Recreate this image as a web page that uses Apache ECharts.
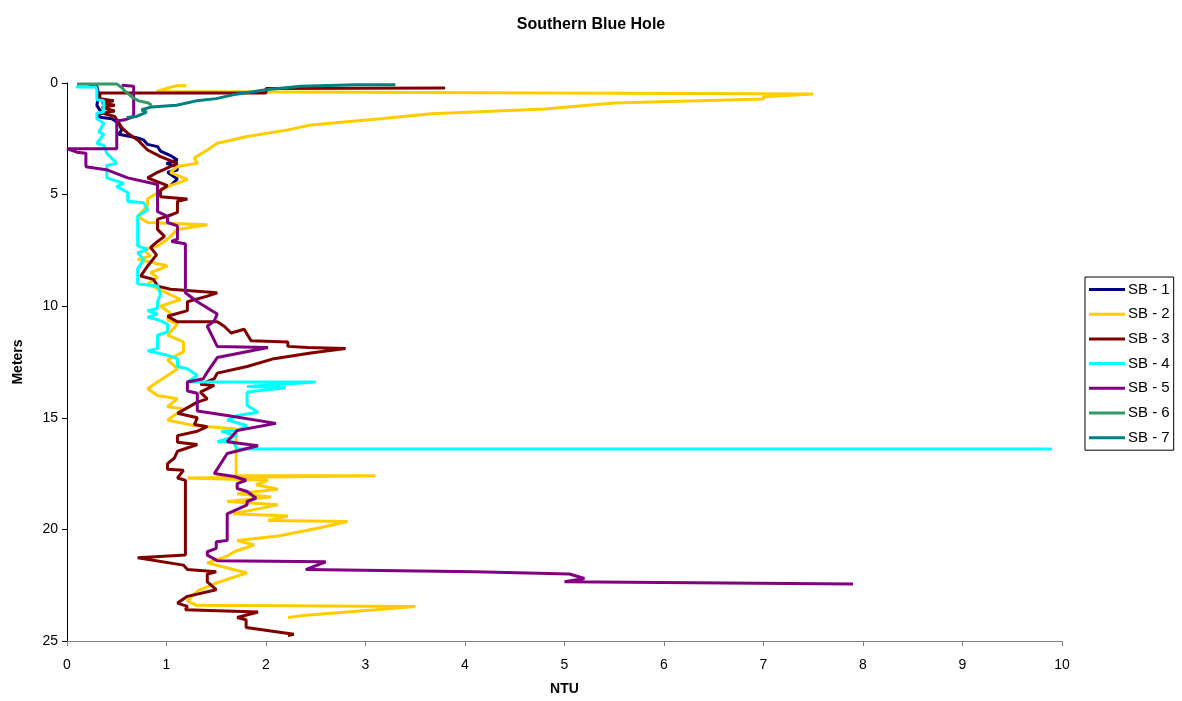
<!DOCTYPE html>
<html>
<head>
<meta charset="utf-8">
<script src="https://cdn.jsdelivr.net/npm/echarts@6/dist/echarts.min.js"></script>
<style>
html,body{margin:0;padding:0;background:#fff;}
#chart{width:1182px;height:701px;}
</style>
</head>
<body>
<div id="chart"></div>
<script>
// [NTU, depth in meters]
const seriesNames = ['SB - 1','SB - 2','SB - 3','SB - 4','SB - 5','SB - 6','SB - 7'];
const xTicks = [0,1,2,3,4,5,6,7,8,9,10];
const yTicks = [0,5,10,15,20,25];

const sb1 = [[0.22,0.15],[0.3,0.15],[0.32,0.5],[0.3,1.0],[0.35,1.35],[0.3,1.45],[0.35,1.55],[0.45,1.6],[0.52,1.8],[0.55,2.1],[0.52,2.3],[0.7,2.45],[0.77,2.55],[0.81,2.75],[0.91,2.85],[0.94,3.05],[1.04,3.25],[1.11,3.45],[1.0,3.6],[1.1,3.75],[1.11,3.9],[1.01,4.0],[1.11,4.3],[1.04,4.6]];

const sb2 = [[1.2,0.12],[1.1,0.12],[0.9,0.38],[0.9,0.45],[7.5,0.49],[7.0,0.62],[7.0,0.72],[5.5,0.9],[4.8,1.16],[3.66,1.38],[3.15,1.6],[2.45,1.88],[2.22,2.1],[1.81,2.4],[1.51,2.7],[1.41,3.0],[1.28,3.35],[1.31,3.6],[1.11,3.74],[1.04,4.0],[1.21,4.33],[1.01,4.64],[0.81,5.2],[0.81,5.5],[0.71,5.97],[0.81,6.25],[1.41,6.35],[1.11,6.56],[1.01,7.0],[0.91,7.3],[0.77,7.46],[0.84,7.75],[0.71,7.9],[1.01,8.2],[0.84,8.5],[0.91,8.7],[0.81,9.0],[1.14,9.7],[0.94,10.0],[1.04,10.3],[1.01,10.6],[1.11,10.8],[1.01,11.3],[1.17,11.6],[1.17,12.05],[1.01,12.4],[1.11,12.8],[1.01,13.1],[0.91,13.4],[0.81,13.7],[0.91,14.0],[1.11,14.15],[1.01,14.5],[1.17,14.6],[1.01,15.1],[1.28,15.35],[1.7,15.5],[1.7,17.6],[3.1,17.6],[1.21,17.7],[2.02,17.8],[1.9,18.0],[2.12,18.2],[1.71,18.4],[2.05,18.55],[1.61,18.75],[2.12,18.9],[1.67,19.3],[2.22,19.4],[2.02,19.6],[2.82,19.65],[2.52,19.95],[2.12,20.3],[1.71,20.5],[1.88,20.7],[1.68,21.0],[1.61,21.2],[1.41,21.5],[1.81,21.95],[1.5,22.4],[1.31,22.77],[1.21,23.2],[1.3,23.4],[3.5,23.45],[3.1,23.6],[2.4,23.85],[2.22,23.95]];

const sb3 = [[3.8,0.22],[2.0,0.25],[2.0,0.45],[0.33,0.45],[0.33,0.7],[0.47,0.8],[0.35,0.9],[0.48,1.0],[0.35,1.1],[0.48,1.25],[0.35,1.35],[0.48,1.5],[0.5,1.65],[0.55,2.0],[0.61,2.25],[0.71,2.55],[0.81,3.0],[0.94,3.3],[1.11,3.6],[0.91,4.0],[0.81,4.25],[1.01,4.6],[0.94,4.8],[0.94,5.1],[1.21,5.2],[1.11,5.3],[1.11,5.8],[1.01,5.97],[0.91,6.1],[0.91,6.56],[0.98,6.87],[0.91,7.1],[0.84,7.37],[0.9,7.7],[0.81,8.2],[0.74,8.65],[0.87,8.8],[0.91,9.1],[1.04,9.24],[1.51,9.4],[1.41,9.55],[1.21,9.8],[1.21,10.2],[1.01,10.45],[1.11,10.7],[1.51,10.7],[1.58,10.9],[1.65,11.2],[1.78,11.03],[1.85,11.55],[2.22,11.6],[2.22,11.8],[2.42,11.85],[2.8,11.9],[2.45,12.1],[2.08,12.35],[1.81,12.7],[1.51,13.0],[1.48,13.25],[1.34,13.5],[1.48,13.55],[1.34,13.85],[1.41,14.15],[1.31,14.3],[1.11,14.8],[1.31,15.0],[1.28,15.3],[1.41,15.4],[1.31,15.6],[1.11,15.8],[1.11,16.1],[1.31,16.2],[1.11,16.5],[1.08,16.8],[1.01,17.05],[1.01,17.3],[1.17,17.35],[1.11,17.7],[1.19,17.8],[1.19,21.15],[0.71,21.27],[1.17,21.6],[1.21,21.8],[1.5,21.9],[1.41,22.0],[1.41,22.35],[1.5,22.7],[1.21,23.0],[1.11,23.3],[1.21,23.45],[1.19,23.6],[1.92,23.7],[1.71,23.95],[1.8,24.05],[1.8,24.4],[2.28,24.7],[2.22,24.75]];

const sb4 = [[0.09,0.18],[0.29,0.18],[0.3,0.3],[0.3,0.75],[0.37,0.8],[0.37,1.3],[0.3,1.35],[0.3,1.6],[0.37,1.8],[0.32,2.2],[0.37,2.3],[0.3,2.7],[0.37,2.8],[0.4,3.15],[0.5,3.6],[0.4,3.7],[0.4,4.25],[0.57,4.5],[0.5,4.64],[0.61,4.9],[0.61,5.3],[0.77,5.37],[0.81,5.67],[0.71,5.97],[0.71,7.3],[0.81,7.46],[0.71,7.6],[0.77,7.9],[0.71,8.35],[0.71,9.0],[0.91,9.1],[0.94,9.46],[0.91,9.8],[0.91,10.1],[0.81,10.2],[0.91,10.35],[0.81,10.5],[0.91,10.6],[1.01,10.8],[1.01,11.15],[0.91,11.3],[0.91,11.9],[0.81,12.0],[1.01,12.2],[1.11,12.35],[1.11,12.7],[1.21,12.8],[1.31,13.1],[1.21,13.4],[2.5,13.4],[1.81,13.6],[2.2,13.65],[1.81,13.85],[1.81,14.45],[1.92,14.75],[1.71,14.9],[1.61,15.1],[1.81,15.35],[1.71,15.57],[1.55,15.6],[1.71,15.8],[1.51,16.07],[1.67,16.07],[1.71,16.4],[9.9,16.4]];

const sb5 = [[0.55,0.1],[0.67,0.15],[0.67,1.5],[0.58,1.65],[0.5,1.7],[0.5,2.95],[0.0,2.95],[0.1,3.1],[0.19,3.15],[0.19,3.75],[0.41,3.9],[0.61,4.25],[0.91,4.55],[0.91,5.76],[1.01,5.97],[1.01,6.25],[1.11,6.4],[1.11,7.0],[1.05,7.1],[1.19,7.2],[1.19,9.4],[1.31,9.8],[1.51,10.35],[1.48,10.65],[1.41,10.9],[1.51,11.8],[2.02,11.85],[1.51,12.3],[1.41,12.95],[1.37,13.25],[1.21,13.4],[1.21,13.8],[1.31,13.9],[1.31,14.7],[1.61,14.9],[2.1,15.25],[1.71,15.57],[1.61,16.07],[1.92,16.25],[1.61,16.6],[1.51,17.3],[1.48,17.5],[1.68,17.63],[1.8,17.8],[1.71,17.95],[1.71,18.17],[1.81,18.3],[1.9,18.6],[1.81,18.75],[1.81,18.9],[1.61,19.3],[1.61,20.5],[1.5,20.55],[1.5,20.85],[1.41,21.0],[1.41,21.15],[1.51,21.4],[2.6,21.45],[2.4,21.8],[4.1,21.9],[5.05,22.0],[5.2,22.2],[5.0,22.35],[7.9,22.45]];

const sb6 = [[0.1,0.05],[0.5,0.05],[0.55,0.2],[0.58,0.35],[0.62,0.5],[0.66,0.65],[0.72,0.8],[0.82,0.9],[0.85,1.0]];

const sb7 = [[3.3,0.08],[2.9,0.08],[2.35,0.15],[2.0,0.3],[1.7,0.5],[1.5,0.7],[1.3,0.8],[1.1,1.0],[0.85,1.07],[0.75,1.2],[0.8,1.3],[0.7,1.5],[0.6,1.55]];

const allData = [sb1, sb2, sb3, sb4, sb5, sb6, sb7];
const colors = ['#000080','#FFCC00','#800000','#00FFFF','#800080','#339966','#008080'];

const chart = echarts.init(document.getElementById('chart'), null, {renderer:'canvas'});
const fontFam = '"Liberation Sans", Arial, sans-serif';

chart.setOption({
  backgroundColor: '#ffffff',
  animation: false,
  color: colors,
  title: {
    text: 'Southern Blue Hole',
    left: 'center',
    top: 12,
    textStyle: {fontFamily: fontFam, fontSize: 16, fontWeight: 'bold', color: '#000'}
  },
  grid: {left: 67, right: 120, top: 83, bottom: 58, containLabel: false},
  legend: {
    orient: 'vertical',
    left: 1085,
    top: 277,
    data: seriesNames,
    icon: 'rect',
    itemWidth: 36,
    itemHeight: 3,
    itemGap: 9.7,
    borderColor: '#000',
    borderWidth: 1,
    borderRadius: 0,
    padding: [5, 4, 5, 4],
    textStyle: {fontFamily: fontFam, fontSize: 15, color: '#000', padding: [0,0,0,-2]}
  },
  xAxis: {
    type: 'value',
    position: 'bottom',
    min: 0, max: 10, interval: 1,
    name: 'NTU',
    nameLocation: 'middle',
    nameGap: 41,
    nameTextStyle: {fontFamily: fontFam, fontSize: 14, fontWeight: 'bold', color: '#000'},
    axisLine: {show: true, onZero: false, lineStyle: {color: '#808080', width: 1}},
    axisTick: {show: true, inside: false, length: 5, lineStyle: {color: '#808080'}},
    axisLabel: {fontFamily: fontFam, fontSize: 14, color: '#000', margin: 17,
      formatter: v => xTicks.includes(v) ? String(v) : ''},
    splitLine: {show: false}
  },
  yAxis: {
    type: 'value',
    position: 'left',
    inverse: true,
    min: 0, max: 25, interval: 5,
    name: 'Meters',
    nameLocation: 'middle',
    nameRotate: 90,
    nameGap: 42,
    nameTextStyle: {fontFamily: fontFam, fontSize: 14, fontWeight: 'bold', color: '#000'},
    axisLine: {show: true, onZero: false, lineStyle: {color: '#000', width: 1}},
    axisTick: {show: true, inside: false, length: 5, lineStyle: {color: '#000'}},
    axisLabel: {fontFamily: fontFam, fontSize: 14, color: '#000', margin: 9,
      formatter: v => yTicks.includes(v) ? String(v) : ''},
    splitLine: {show: false}
  },
  series: allData.map((d, i) => ({
    name: seriesNames[i],
    type: 'line',
    data: d,
    showSymbol: false,
    symbol: 'none',
    clip: true,
    lineStyle: {width: 3, color: colors[i]},
    itemStyle: {color: colors[i]}
  }))
});
</script>
</body>
</html>
